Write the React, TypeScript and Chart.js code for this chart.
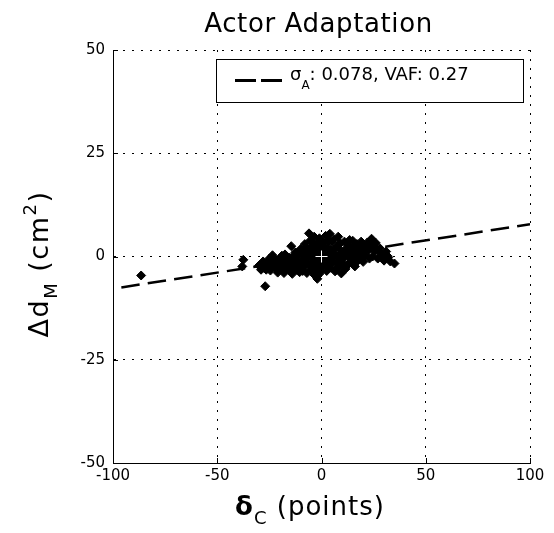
import { useEffect, useRef } from 'react';
import { Chart, registerables } from 'chart.js';

Chart.register(...registerables);

// ---- axes ----
const X_MIN = -100;
const X_MAX = 100;
const X_STEP = 50;
const Y_MIN = -50;
const Y_MAX = 50;
const Y_STEP = 25;

// ---- text ----
const TITLE = 'Actor Adaptation';
const X_LABEL_SYMBOL = 'δ';
const X_LABEL_SUB = 'C';
const X_LABEL_REST = ' (points)';
const Y_LABEL_MAIN = 'Δd';
const Y_LABEL_SUB = 'M';
const Y_LABEL_MID = ' (cm';
const Y_LABEL_SUP = '2';
const Y_LABEL_END = ')';
const LEGEND_SYMBOL = 'σ';
const LEGEND_SUB = 'A';
const LEGEND_REST = ': 0.078, VAF: 0.27';

// ---- data: trial points (δC, ΔdM) ----
const deltaC = [
  -86.5, -38, -37.5,
  -30, -29, -28, -27, -27.5,
  -26, -25, -24.5, -23.5, -23,
  -22, -21, -20.5, -19.5, -19,
  -18, -17.5, -17, -16, -15.5, -15,
  -14.5, -14, -13.5, -13, -12.5, -12, -11.5,
  -11, -10.5, -10, -9.5, -9, -8.5, -8,
  -7.5, -7, -6.5, -6, -6, -5.5, -5, -5,
  -4.5, -4, -3.5, -3.5, -3, -3, -2.5, -2, -2, -1.5, -1, -1, -0.5, -0.5,
  0, 0.5, 1, 1, 1.5, 2, 2, 2.5, 3, 3,
  3.5, 4, 4, 4.5, 5, 5.5, 6, 6, 6.5, 7,
  7.5, 8, 8, 8.5, 9, 9.5, 10, 10,
  10.5, 11, 11.5, 12, 12.5, 13, 13.5, 14,
  14.5, 15, 15.5, 16, 16.5, 17, 17.5,
  18, 18.5, 19, 19.5, 20, 20.5, 21, 22,
  22.5, 23, 24, 24.5, 25, 25.5, 26, 27, 28,
  28.5, 30, 31, 32, 33, 35,
  -28.5, -26.5, -25.5, -24, -22.5, -21.5, -20, -18.5, -17, -16.5,
  -15, -13.5, -12.5, -11, -10, -9, -8.5, -7.5, -7, -6,
  -4.5, -4, -3.5, -2, -1.5, -1, 0, 0.5, 1.5, 2.5,
  3.5, 4.5, 5, 6.5, 7.5, 8.5, 9.5, 11, 12.5, 13,
  15, 16, 17, 19, 21, 23, 26.5, 29, 31.5,
];
const deltaDM = [
  -4.6, -2.4, -0.8,
  -2.2, -3.2, -1.2, -7.2, -2.8,
  -2.0, -0.5, -3.4, 0.3, -1.6,
  -2.8, -3.9, -0.8, -2.2, 0.2,
  -4.0, 0.5, -1.5, -3.0, -0.3, -2.0,
  2.5, -4.2, -1.0, -2.6, 1.0, -3.2, 0.0,
  -1.8, -3.8, 1.8, -1.0, 0.5, -2.6, 3.0,
  -0.5, -4.0, 1.5, 5.6, -2.0, 3.8, 0.0, -3.2,
  2.5, -1.2, 4.8, -4.4, 1.0, -2.8, -1.8, 3.3, -5.4, 0.3, -1.5, 4.4, 2.0, -3.5,
  -2.6, 1.2, -0.8, 3.2, -2.0, 5.0, 0.2, -3.5, 2.2, -1.5,
  -0.8, 5.5, 0.8, -2.7, 3.5, -0.3, 1.8, 4.2, -3.6, -1.5,
  2.5, 0.0, 4.8, -2.5, 3.2, -4.1, 1.0, -1.6,
  -0.5, 3.6, -3.0, 2.0, 0.2, -1.8, 4.0, 1.2,
  -0.8, 3.8, 2.4, -2.4, 0.5, 3.0, -1.0,
  1.8, -0.2, 3.6, 1.0, -1.3, 2.5, 0.2, 3.4,
  1.5, -0.5, 4.3, 0.0, 2.5, 1.2, 3.3, -0.5, 2.0,
  0.8, -1.0, 1.2, -0.2, -1.2, -1.7,
  -2.0, -3.2, -1.2, -2.2, -0.8, -1.8, -3.0, -1.2, -2.6, -0.8,
  -3.5, 0.2, -1.5, 0.8, -2.5, -3.5, 1.5, 2.2, -1.5, 0.8,
  -2.2, 1.5, 3.0, -0.5, 2.5, -4.2, 3.8, -1.5, 2.0, -1.2,
  3.8, 1.5, -1.5, 0.5, -2.8, 1.8, -0.8, 0.5, -2.0, 2.8,
  0.8, -1.0, 1.5, 2.0, 1.5, 2.8, 1.8, -0.2, 0.2,
];

// ---- data: regression line (slope σA = 0.078) ----
const fitDeltaC = [-96, 100];
const fitDeltaDM = [-7.49, 7.8];

// ---- data: origin marker ----
const originX = [0];
const originY = [0];

const FONT = "'DejaVu Sans', sans-serif";

type Run = { text: string; font: string; dy: number };

function drawRuns(ctx: CanvasRenderingContext2D, runs: Run[], cx: number, baseline: number, spacing: string) {
  (ctx as any).letterSpacing = spacing;
  ctx.textAlign = 'left';
  ctx.textBaseline = 'alphabetic';
  const widths = runs.map((r) => {
    ctx.font = r.font;
    return ctx.measureText(r.text).width;
  });
  const total = widths.reduce((a, b) => a + b, 0);
  let x = cx - total / 2;
  runs.forEach((r, i) => {
    ctx.font = r.font;
    ctx.fillText(r.text, x, baseline + r.dy);
    x += widths[i];
  });
}

const decorations = {
  id: 'decorations',
  afterDraw(chart: any) {
    const { ctx, chartArea, scales } = chart;
    const xs = scales.x;
    const ys = scales.y;
    ctx.save();

    // inward tick marks
    ctx.strokeStyle = '#000';
    ctx.lineWidth = 1;
    ctx.setLineDash([]);
    ctx.beginPath();
    for (const t of ys.ticks) {
      const py = Math.round(ys.getPixelForValue(t.value)) + 0.5;
      ctx.moveTo(chartArea.left, py);
      ctx.lineTo(chartArea.left + 5, py);
    }
    for (const t of xs.ticks) {
      const px = Math.round(xs.getPixelForValue(t.value)) + 0.5;
      ctx.moveTo(px, chartArea.bottom);
      ctx.lineTo(px, chartArea.bottom - 5);
    }
    ctx.stroke();

    ctx.fillStyle = '#000';
    // title
    drawRuns(ctx, [{ text: TITLE, font: `26px ${FONT}`, dy: 0 }], (chartArea.left + chartArea.right) / 2 - 3, 32, '0.6px');

    // x label
    drawRuns(
      ctx,
      [
        { text: X_LABEL_SYMBOL, font: `bold 26px ${FONT}`, dy: 0 },
        { text: X_LABEL_SUB, font: `18px ${FONT}`, dy: 9 },
        { text: X_LABEL_REST, font: `26px ${FONT}`, dy: 0 },
      ],
      310,
      515,
      '1px'
    );

    // y label (rotated)
    ctx.save();
    ctx.translate(48, 264);
    ctx.rotate(-Math.PI / 2);
    drawRuns(
      ctx,
      [
        { text: Y_LABEL_MAIN, font: `27px ${FONT}`, dy: 0 },
        { text: Y_LABEL_SUB, font: `18px ${FONT}`, dy: 9 },
        { text: Y_LABEL_MID, font: `27px ${FONT}`, dy: 0 },
        { text: Y_LABEL_SUP, font: `18px ${FONT}`, dy: -12 },
        { text: Y_LABEL_END, font: `27px ${FONT}`, dy: 0 },
      ],
      0,
      0,
      '1.5px'
    );
    ctx.restore();

    // legend box
    (ctx as any).letterSpacing = '0px';
    ctx.fillStyle = '#fff';
    ctx.fillRect(216, 59, 307, 43);
    ctx.strokeStyle = '#000';
    ctx.lineWidth = 1;
    ctx.strokeRect(216.5, 59.5, 307, 43);
    ctx.beginPath();
    ctx.lineWidth = 3;
    ctx.setLineDash([21, 5]);
    ctx.moveTo(235, 80.5);
    ctx.lineTo(282, 80.5);
    ctx.stroke();
    ctx.setLineDash([]);
    ctx.fillStyle = '#000';
    ctx.textAlign = 'left';
    ctx.textBaseline = 'alphabetic';
    let lx = 290;
    ctx.font = `18px ${FONT}`;
    ctx.fillText(LEGEND_SYMBOL, lx, 80);
    lx += ctx.measureText(LEGEND_SYMBOL).width;
    ctx.font = `12px ${FONT}`;
    ctx.fillText(LEGEND_SUB, lx, 89);
    lx += ctx.measureText(LEGEND_SUB).width;
    ctx.font = `18px ${FONT}`;
    ctx.fillText(LEGEND_REST, lx, 80);

    ctx.restore();
  },
};

export default function App() {
  const ref = useRef<HTMLCanvasElement | null>(null);

  useEffect(() => {
    if (!ref.current) return;
    const chart = new Chart(ref.current, {
      type: 'scatter',
      data: {
        datasets: [
          {
            label: 'fit',
            data: fitDeltaC.map((x, i) => ({ x, y: fitDeltaDM[i] })),
            showLine: true,
            borderColor: '#000',
            borderWidth: 2.5,
            borderDash: [18.5, 8.2],
            pointRadius: 0,
            order: 3,
          } as any,
          {
            label: 'trials',
            data: deltaC.map((x, i) => ({ x, y: deltaDM[i] })),
            pointStyle: 'rectRot',
            pointRadius: 4.5,
            backgroundColor: '#000',
            borderColor: '#000',
            borderWidth: 1,
            order: 2,
          },
          {
            label: 'origin',
            data: originX.map((x, i) => ({ x, y: originY[i] })),
            pointStyle: 'cross',
            pointRadius: 6,
            borderColor: '#fff',
            backgroundColor: '#fff',
            borderWidth: 1,
            order: 1,
          },
        ],
      },
      options: {
        animation: false,
        responsive: false,
        events: [],
        layout: { padding: { top: 50, right: 24, left: 0, bottom: 0 } },
        plugins: {
          legend: { display: false },
          tooltip: { enabled: false },
          title: { display: false },
        },
        scales: {
          x: {
            type: 'linear',
            min: X_MIN,
            max: X_MAX,
            ticks: {
              stepSize: X_STEP,
              color: '#000',
              padding: 4,
              maxRotation: 0,
              autoSkip: false,
              font: { family: FONT, size: 15 },
            },
            grid: { color: '#000', lineWidth: 1, drawTicks: false },
            border: { display: true, color: '#000', width: 1, dash: [2, 7] },
            afterFit: (s: any) => {
              s.height = 70;
              s.paddingLeft = 0;
              s.paddingRight = 0;
            },
          },
          y: {
            type: 'linear',
            min: Y_MIN,
            max: Y_MAX,
            ticks: {
              stepSize: Y_STEP,
              color: '#000',
              padding: 8,
              autoSkip: false,
              font: { family: FONT, size: 15 },
            },
            grid: { color: '#000', lineWidth: 1, drawTicks: false },
            border: { display: true, color: '#000', width: 1, dash: [2, 7] },
            afterFit: (s: any) => {
              s.width = 113;
              s.paddingTop = 0;
              s.paddingBottom = 0;
            },
          },
        },
      },
      plugins: [decorations],
    } as any);
    return () => chart.destroy();
  }, []);

  return (
    <div style={{ position: 'absolute', left: 0, top: 0, width: 554, height: 533, background: '#fff' }}>
      <canvas ref={ref} width={554} height={533} style={{ display: 'block' }} />
    </div>
  );
}
